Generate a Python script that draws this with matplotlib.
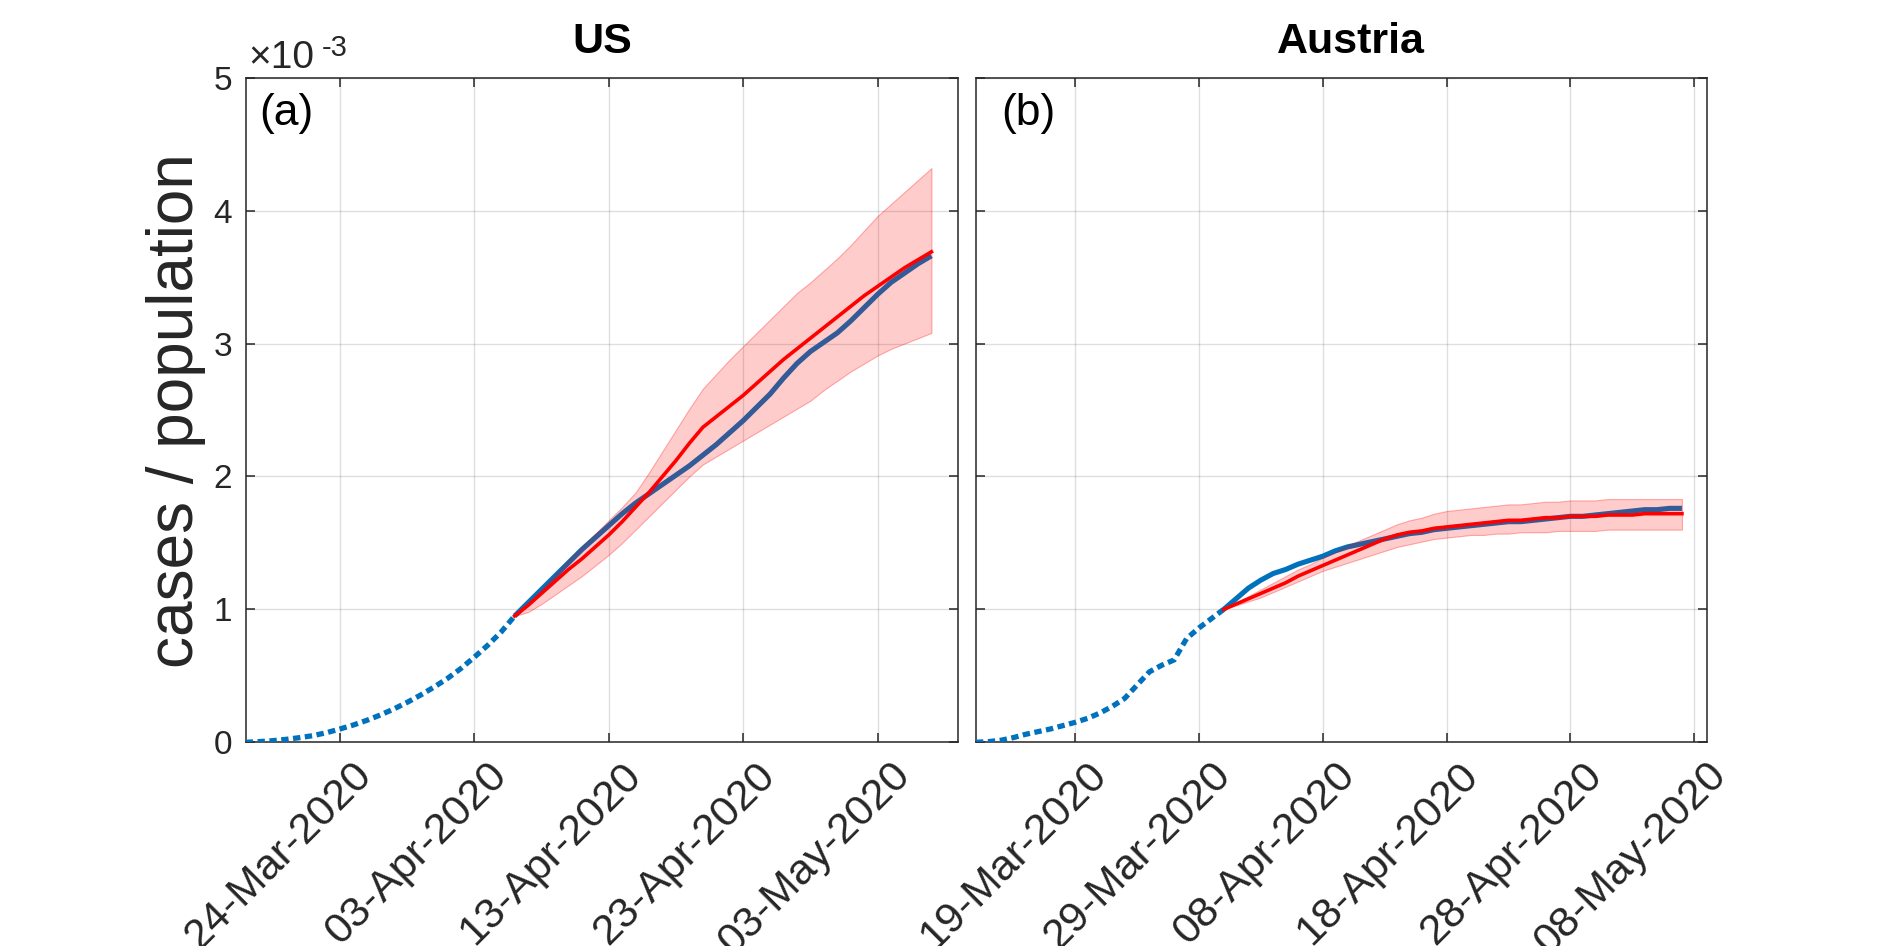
import numpy as np
import pandas as pd
import matplotlib
matplotlib.use("Agg")
import matplotlib.pyplot as plt
import matplotlib.dates as mdates
from matplotlib.transforms import ScaledTranslation

plt.rcParams['font.family'] = ['Liberation Sans', 'DejaVu Sans']

# --- data (cases / population, in units of 1e-3) ---
# US
us_obs_dates = pd.date_range("2020-03-17", "2020-04-06")
us_obs = [0.0, 0.005, 0.012, 0.022, 0.035, 0.05, 0.072, 0.10, 0.13, 0.165, 0.205,
          0.25, 0.30, 0.355, 0.415, 0.48, 0.555, 0.64, 0.73, 0.83, 0.95]
us_fit_dates = pd.date_range("2020-04-06", "2020-05-07")
us_real = [0.95, 1.05, 1.15, 1.25, 1.35, 1.45, 1.54, 1.63, 1.72, 1.80, 1.87, 1.94,
           2.01, 2.08, 2.16, 2.24, 2.33, 2.42, 2.52, 2.62, 2.74, 2.85, 2.94, 3.01,
           3.08, 3.17, 3.27, 3.37, 3.46, 3.53, 3.60, 3.66]
us_pred = [0.95, 1.03, 1.12, 1.21, 1.30, 1.38, 1.47, 1.56, 1.66, 1.77, 1.88, 2.00,
           2.12, 2.25, 2.37, 2.45, 2.53, 2.61, 2.70, 2.79, 2.88, 2.96, 3.04, 3.12,
           3.20, 3.28, 3.36, 3.43, 3.50, 3.57, 3.63, 3.69]
us_hi = [0.95, 1.05, 1.15, 1.26, 1.37, 1.47, 1.57, 1.67, 1.77, 1.88, 2.03, 2.19,
         2.35, 2.51, 2.66, 2.77, 2.88, 2.98, 3.08, 3.18, 3.28, 3.38, 3.46, 3.55,
         3.64, 3.74, 3.85, 3.96, 4.05, 4.14, 4.23, 4.32]
us_lo = [0.95, 0.98, 1.04, 1.11, 1.18, 1.25, 1.33, 1.41, 1.50, 1.60, 1.70, 1.80,
         1.90, 2.00, 2.09, 2.15, 2.21, 2.27, 2.33, 2.39, 2.45, 2.51, 2.57, 2.65,
         2.72, 2.79, 2.85, 2.91, 2.96, 3.00, 3.04, 3.08]

# Austria
at_obs_dates = pd.date_range("2020-03-11", "2020-03-31")
at_obs = [0.0, 0.005, 0.015, 0.035, 0.06, 0.08, 0.10, 0.125, 0.15, 0.18, 0.22,
          0.27, 0.33, 0.43, 0.53, 0.58, 0.62, 0.78, 0.86, 0.93, 1.00]
at_fit_dates = pd.date_range("2020-03-31", "2020-05-07")
at_real = [1.00, 1.08, 1.16, 1.22, 1.27, 1.30, 1.34, 1.37, 1.40, 1.44, 1.47, 1.49,
           1.51, 1.53, 1.55, 1.57, 1.58, 1.60, 1.61, 1.62, 1.63, 1.64, 1.65, 1.66,
           1.66, 1.67, 1.68, 1.69, 1.70, 1.70, 1.71, 1.72, 1.73, 1.74, 1.75, 1.75,
           1.76, 1.76]
at_pred = [1.00, 1.04, 1.08, 1.12, 1.16, 1.20, 1.25, 1.29, 1.33, 1.37, 1.41, 1.45,
           1.49, 1.53, 1.56, 1.58, 1.59, 1.61, 1.62, 1.63, 1.64, 1.65, 1.66, 1.67,
           1.67, 1.68, 1.69, 1.69, 1.70, 1.70, 1.70, 1.71, 1.71, 1.71, 1.72, 1.72,
           1.72, 1.72]
at_hi = [1.00, 1.05, 1.10, 1.15, 1.20, 1.25, 1.30, 1.34, 1.39, 1.43, 1.48, 1.52,
         1.56, 1.60, 1.64, 1.67, 1.69, 1.72, 1.74, 1.75, 1.76, 1.77, 1.78, 1.79,
         1.79, 1.80, 1.81, 1.81, 1.82, 1.82, 1.82, 1.83, 1.83, 1.83, 1.83, 1.83,
         1.83, 1.83]
at_lo = [1.00, 1.03, 1.06, 1.09, 1.13, 1.17, 1.21, 1.25, 1.29, 1.32, 1.35, 1.38,
         1.41, 1.44, 1.47, 1.49, 1.51, 1.53, 1.54, 1.55, 1.56, 1.56, 1.57, 1.57,
         1.58, 1.58, 1.58, 1.59, 1.59, 1.59, 1.59, 1.60, 1.60, 1.60, 1.60, 1.60,
         1.60, 1.60]

us_ticks = ["2020-03-24", "2020-04-03", "2020-04-13", "2020-04-23", "2020-05-03"]
at_ticks = ["2020-03-19", "2020-03-29", "2020-04-08", "2020-04-18", "2020-04-28", "2020-05-08"]

BLUE = '#0072BD'
AXC = '#262626'

fig = plt.figure(figsize=(18.86, 9.46), dpi=100)
ax1 = fig.add_axes([0.13028, 0.21533, 0.37784, 0.70254])
ax2 = fig.add_axes([0.51750, 0.21533, 0.38743, 0.70254])

panels = [
    (ax1, "US", "(a)", us_obs_dates, us_obs, us_fit_dates, us_real, us_pred, us_hi, us_lo,
     us_ticks, ("2020-03-17", "2020-05-09"), 0.019, 0.5),
    (ax2, "Austria", "(b)", at_obs_dates, at_obs, at_fit_dates, at_real, at_pred, at_hi, at_lo,
     at_ticks, ("2020-03-11", "2020-05-09"), 0.035, 0.513),
]

shift = ScaledTranslation(12 / 100, 0, fig.dpi_scale_trans)

for ax, title, tag, od, ov, fd, real, pred, hi, lo, ticks, xl, tagx, titx in panels:
    ax.plot(od, ov, color=BLUE, lw=3.8, linestyle=(0, (1.4, 0.85)),
            dash_capstyle='butt', zorder=3)
    ax.plot(fd, real, color=BLUE, lw=3.7, solid_capstyle='butt', zorder=3)
    ax.fill_between(fd, lo, hi, facecolor=(1, 0, 0, 0.2), edgecolor=(1, 0, 0, 0.3),
                    lw=0.8, zorder=4)
    ax.plot(fd, pred, color='red', lw=2.6, zorder=5)

    ax.set_xlim(pd.Timestamp(xl[0]), pd.Timestamp(xl[1]))
    ax.set_ylim(0, 5)
    ax.set_yticks([0, 1, 2, 3, 4, 5])
    ax.set_xticks([pd.Timestamp(t) for t in ticks])
    ax.xaxis.set_major_formatter(mdates.DateFormatter('%d-%b-%Y'))
    ax.grid(True, color=AXC, alpha=0.15, lw=1.0)
    ax.set_axisbelow(True)
    ax.tick_params(direction='in', length=6.5, width=1.1, colors=AXC,
                   top=True, right=True, labelsize=24)
    ax.tick_params(axis='y', pad=10)
    ax.tick_params(axis='x', pad=9, labelsize=31)
    for lab in ax.get_xticklabels():
        lab.set_rotation(45)
        lab.set_ha('right')
        lab.set_va('top')
        lab.set_rotation_mode('anchor')
        lab.set_transform(lab.get_transform() + shift)
    for s in ax.spines.values():
        s.set_color(AXC)
        s.set_linewidth(1.1)
    ax.set_title(title, fontsize=31, fontweight='bold', pad=18, x=titx)
    ax.text(tagx, 0.977, tag, transform=ax.transAxes, fontsize=32,
            ha='left', va='top', color='black')

ax2.tick_params(axis='y', labelleft=False)

# y label and exponent
fig.text(176 / 1886, 1 - 411 / 946, "cases / population", rotation=90,
         ha='center', va='center', fontsize=46, color=AXC)
fig.text(248 / 1886, 1 - 68 / 946, "\u00d710", fontsize=28, color=AXC,
         ha='left', va='baseline')
fig.text(322 / 1886, 1 - 56 / 946, "-3", fontsize=21, color=AXC,
         ha='left', va='baseline')

fig.savefig("out.png", dpi=100)
